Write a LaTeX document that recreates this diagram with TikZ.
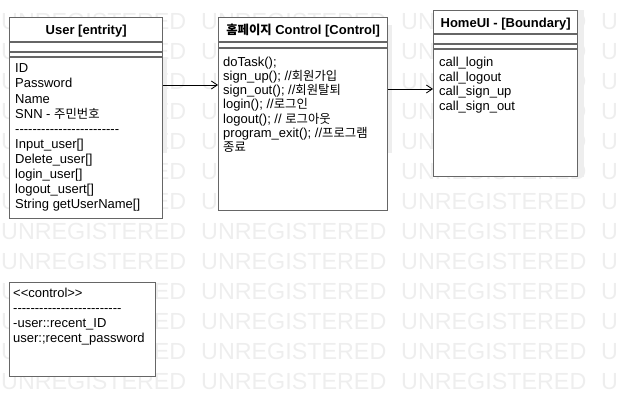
\documentclass[tikz,border=0pt]{standalone}
\usepackage{fontspec}
\newfontfamily\uifont{Liberation Sans}
\newfontfamily\kofont{Noto Sans CJK KR}[Scale=0.95]
\newcommand\hangul[1]{{\kofont #1}}
\usepackage{xcolor}
\usepackage{tikz}
\usetikzlibrary{arrows.meta}
\definecolor{boxgray}{HTML}{666666}
\definecolor{wmgray}{HTML}{EEEEEE}

\begin{document}
\begin{tikzpicture}[
        x=1pt, y=-1pt,
        box/.style={rectangle, draw=boxgray, line width=1.3pt, fill=white, anchor=north west, inner sep=0pt},
        sep/.style={draw=boxgray, line width=1.3pt},
        head/.style={anchor=base, inner sep=0pt, font=\uifont\bfseries\fontsize{13}{15}\selectfont},
        txt/.style={anchor=base west, inner sep=0pt, font=\uifont\fontsize{13}{15}\selectfont},
        wm/.style={anchor=base west, inner sep=0pt, text=wmgray, font=\uifont\fontsize{23.3}{24}\selectfont},
        arrow/.style={-{Straight Barb[length=6pt, width=8pt]}, line width=0.8pt}
    ]
        \useasboundingbox (0,0) rectangle (617,417);
        \begin{scope}
            \clip (0,0) rectangle (617,417);
            \foreach \r in {0,...,12}
                \foreach \c in {0,...,3}
                    \node[wm] (wm-\r-\c) at (1+200*\c, 29.7+30*\r) {UNREGISTERED};
        \end{scope}
        \fill[wmgray] (162,57) rectangle (167,153);
        \fill[wmgray] (387,25) rectangle (392,153);
        \fill[wmgray] (577,10) rectangle (584,177);

        \node[box, minimum width=153pt, minimum height=201pt] (user) at (9,17) {};
        \node[box, minimum width=169pt, minimum height=193pt] (ctrl) at (218,17) {};
        \node[box, minimum width=144pt, minimum height=166pt] (home) at (433,10) {};
        \node[box, minimum width=146pt, minimum height=94pt] (note) at (9,282) {};

        \draw[sep] (user.west |- 0,42) -- (user.east |- 0,42);
        \draw[sep] (user.west |- 0,52) -- (user.east |- 0,52);
        \draw[sep] (user.west |- 0,57) -- (user.east |- 0,57);
        \draw[sep] (ctrl.west |- 0,42) -- (ctrl.east |- 0,42);
        \draw[sep] (ctrl.west |- 0,48) -- (ctrl.east |- 0,48);
        \draw[sep] (home.west |- 0,34) -- (home.east |- 0,34);
        \draw[sep] (home.west |- 0,44) -- (home.east |- 0,44);
        \draw[sep] (home.west |- 0,49) -- (home.east |- 0,49);

        \node[head] (user-title) at (user.north |- 0,35) {User [entrity]};
        \node[head] (ctrl-title) at (ctrl.north |- 0,35) {\hangul{홈페이지} Control [Control]};
        \node[head] (home-title) at (home.north |- 0,28) {HomeUI - [Boundary]};

        \foreach \t [count=\i from 0] in {ID, Password, Name, SNN - \hangul{주민번호}, ------------------------,
                Input\_user[], Delete\_user[], login\_user[], logout\_usert[], String getUserName[]}
            \node[txt] (user-\i) at (15, 73+15*\i) {\t};
        \foreach \t [count=\i from 0] in {doTask();, sign\_up(); //\hangul{회원가입}, sign\_out(); //\hangul{회원탈퇴},
                login(); //\hangul{로그인}, logout(); // \hangul{로그아웃}, program\_exit(); //\hangul{프로그램}, \hangul{종료}}
            \node[txt] (ctrl-\i) at (223, 66.3+14.2*\i) {\t};
        \foreach \t [count=\i from 0] in {call\_login, call\_logout, call\_sign\_up, call\_sign\_out}
            \node[txt] (home-\i) at (439, 66.5+14.7*\i) {\t};
        \foreach \t [count=\i from 0] in {<<control>>, -------------------------, -user::recent\_ID, user:;recent\_password}
            \node[txt] (note-\i) at (13, 297.6+15*\i) {\t};

        \coordinate (a1) at (0,85);
        \coordinate (a2) at (0,89);
        \draw[arrow] (user.east |- a1) -- (ctrl.west |- a1);
        \draw[arrow] (ctrl.east |- a2) -- (home.west |- a2);
    \end{tikzpicture}
\end{document}
